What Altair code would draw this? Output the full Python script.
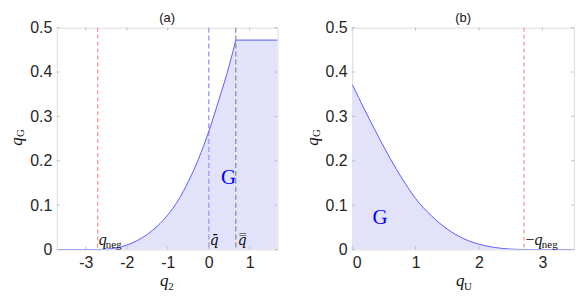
import altair as alt
import pandas as pd

# ---------------- data ----------------
# panel (a): rising part of the curve, then the flat cap
a_q2 = [-3.71, -2.71, -2.5, -2.25, -2.0, -1.75, -1.5, -1.25, -1.0, -0.75, -0.5, -0.25, 0.0, 0.25, 0.5, 0.66]
a_qG = [0.0, 0.0, 0.001, 0.004, 0.010, 0.020, 0.034, 0.053, 0.078, 0.110, 0.153, 0.204, 0.266, 0.338, 0.415, 0.472]
a_cap_q2 = [0.66, 1.68]
a_cap_qG = [0.472, 0.472]
a_xdomain = [-3.71, 1.68]
a_xticks = [-3, -2, -1, 0, 1]

# panel (b)
b_qU = [0.0, 0.2, 0.4, 0.6, 0.8, 1.0, 1.25, 1.5, 1.75, 2.0, 2.25, 2.5, 2.71, 3.5]
b_qG = [0.372, 0.314, 0.258, 0.205, 0.157, 0.115, 0.076, 0.046, 0.025, 0.012, 0.0045, 0.001, 0.0, 0.0]
b_xdomain = [0.0, 3.5]
b_xticks = [0, 1, 2, 3]

y_domain = [0.0, 0.5]
y_ticks = [0, 0.1, 0.2, 0.3, 0.4, 0.5]

q_neg = -2.71
q_bar = 0.0
q_bbar = 0.66

# ---------------- style ----------------
H = 223
FILL = "#e2e2fb"
LINE = "#5c5cff"
FRAME = "#bcbcc8"
RED = "#f47a7a"
SANS = "Liberation Sans"
SERIF = "Liberation Serif"
INK = "#111111"

y_scale = alt.Scale(domain=y_domain, nice=False, zero=False)
HYPHEN = "replace(format(datum.value, '~g'), '\u2212', '-')"


def axis_x(ticks):
    return alt.Axis(values=ticks, ticks=False, domain=False, grid=False, title=None,
                    labelFont=SANS, labelFontSize=16, labelColor="#262626", labelPadding=5,
                    labelExpr=HYPHEN)


axis_y = alt.Axis(values=y_ticks, ticks=False, domain=False, grid=False, title=None,
                  labelFont=SANS, labelFontSize=16, labelColor="#262626", labelPadding=5,
                  labelExpr=HYPHEN)


def txt_at(xv, yv, t, xs_scale, **kw):
    return alt.Chart(pd.DataFrame({"x": [xv], "y": [yv], "t": [t]})).mark_text(**kw).encode(
        x=alt.X("x:Q", scale=xs_scale), y=alt.Y("y:Q", scale=y_scale), text="t:N")


def txt_px(px, py, t, **kw):
    return alt.Chart(pd.DataFrame({"t": [t]})).mark_text(**kw).encode(
        x=alt.value(px), y=alt.value(py), text="t:N")


def panel(segments, W, xdomain, xticks, vlines, labels, xsub, title):
    xs_scale = alt.Scale(domain=xdomain, nice=False, zero=False)
    frames = []
    for i, (xs, ys) in enumerate(segments):
        frames.append(pd.DataFrame({"x": xs, "y": ys, "seg": [i] * len(xs)}))
    df = pd.concat(frames, ignore_index=True)
    base = alt.Chart(df)
    area = base.mark_area(color=FILL, opacity=1, interpolate="monotone", clip=True).encode(
        x=alt.X("x:Q", scale=xs_scale, axis=axis_x(xticks)),
        y=alt.Y("y:Q", scale=y_scale, axis=axis_y, stack=None),
        detail="seg:N",
    )
    line = base.mark_line(color=LINE, strokeWidth=1, interpolate="monotone", clip=True).encode(
        x=alt.X("x:Q", scale=xs_scale), y=alt.Y("y:Q", scale=y_scale), detail="seg:N"
    )
    layers = [area]
    for xv, col, wdt, dash in vlines:
        layers.append(
            alt.Chart(pd.DataFrame({"x": [xv], "c": [col]})).mark_rule(
                color=col, stroke=col, strokeWidth=wdt, strokeDash=dash).encode(
                x=alt.X("x:Q", scale=xs_scale)
            )
        )
    layers.append(line)

    # inside box ticks
    xt = pd.DataFrame({"x": xticks})
    yt = pd.DataFrame({"y": y_ticks})
    layers.append(alt.Chart(xt).mark_rule(color=FRAME).encode(
        x=alt.X("x:Q", scale=xs_scale), y=alt.value(H), y2=alt.value(H - 3)))
    layers.append(alt.Chart(xt).mark_rule(color=FRAME).encode(
        x=alt.X("x:Q", scale=xs_scale), y=alt.value(0), y2=alt.value(3)))
    layers.append(alt.Chart(yt).mark_rule(color=FRAME).encode(
        y=alt.Y("y:Q", scale=y_scale), x=alt.value(0), x2=alt.value(3)))
    layers.append(alt.Chart(yt).mark_rule(color=FRAME).encode(
        y=alt.Y("y:Q", scale=y_scale), x=alt.value(W), x2=alt.value(W - 3)))

    # annotation texts: (x, y, text, dx, dy, size, italic, color, font)
    for xv, yv, t, dx, dy, size, italic, col, fnt in labels:
        kw = dict(font=fnt, fontSize=size, align="left", baseline="alphabetic", dx=dx, dy=dy, color=col)
        if italic:
            kw["fontStyle"] = "italic"
        layers.append(txt_at(xv, yv, t, xs_scale, **kw))

    # axis titles built from text (with subscripts)
    layers.append(txt_px(-39.5, 114.5, "q", font=SERIF, fontStyle="italic", fontSize=17, angle=270,
                         align="center", baseline="middle", color=INK))
    layers.append(txt_px(-35.5, 106, "G", font=SERIF, fontSize=11, angle=270,
                         align="center", baseline="middle", color=INK))
    layers.append(txt_px(W / 2 - 3, 260, "q", font=SERIF, fontStyle="italic", fontSize=17,
                         align="center", baseline="alphabetic", color=INK))
    layers.append(txt_px(W / 2 + 1, 263.5, xsub, font=SERIF, fontSize=11,
                         align="left", baseline="alphabetic", color=INK))
    # panel title
    layers.append(txt_px(W / 2, -9.7, title, font=SANS, fontSize=13, align="center",
                         baseline="middle", color=INK))

    return alt.layer(*layers).properties(width=W, height=H)


DJ = "DejaVu Serif"
pa = panel(
    [(a_q2, a_qG), (a_cap_q2, a_cap_qG)], 222, a_xdomain, a_xticks,
    vlines=[(q_neg, RED, 1, [4, 3]), (q_bar, "#a6a6f2", 1.6, [5, 3]), (q_bbar, "#8a8a8a", 1.2, [5, 3])],
    labels=[
        (q_neg, 0.0, "q", 1, -4.5, 16, True, INK, SERIF),
        (q_neg, 0.0, "neg", 8, -1.5, 11, False, INK, SERIF),
        (q_bar, 0.0, "q\u0304", 1, -4.5, 14, True, INK, DJ),
        (q_bbar, 0.0, "q\u033f", 2, -4.5, 14, True, INK, DJ),
        (0.30, 0.164, "G", 0, 7, 21, False, "#0000ff", SERIF),
    ],
    xsub="2", title="(a)",
)

pb = panel(
    [(b_qU, b_qG)], 223, b_xdomain, b_xticks,
    vlines=[(-q_neg, RED, 1, [4, 3])],
    labels=[
        (-q_neg, 0.0, "\u2212", 1.5, -4.5, 16, False, INK, SERIF),
        (-q_neg, 0.0, "q", 10.5, -4.5, 16, True, INK, SERIF),
        (-q_neg, 0.0, "neg", 18, -1.5, 11, False, INK, SERIF),
        (0.32, 0.074, "G", 0, 7, 21, False, "#0000ff", SERIF),
    ],
    xsub="U", title="(b)",
)

chart = alt.hconcat(pa, pb, spacing=75, bounds="flush").properties(
    padding={"left": 0, "top": 2, "right": 5, "bottom": 5}
).configure_view(
    stroke=FRAME, strokeWidth=1
).configure(background="white")

chart.save("out.html", embed_options={"renderer": "svg", "actions": False})
